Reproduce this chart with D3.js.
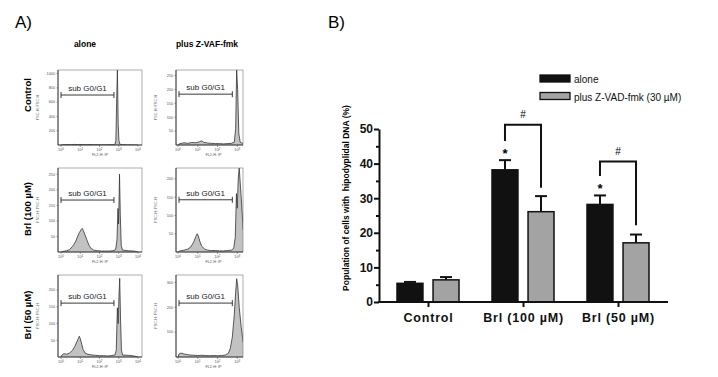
<!DOCTYPE html>
<html>
<head>
<script src="https://cdnjs.cloudflare.com/ajax/libs/d3/7.8.5/d3.min.js"></script>
<style>
  body{margin:0;background:#fff;font-family:"Liberation Sans",Arial,Helvetica,sans-serif;}
  svg{display:block;}
</style>
</head>
<body>
<div id="chart"></div>
<script>
// ---- panel A: flow histograms, x = log10(FL2-H: IP), y = counts
var hCtrlAlone = [[0,0],[0.1,4],[0.3,6],[0.5,5],[0.7,8],[0.9,6],[1.1,7],[1.3,5],[1.5,6],[1.7,4],[1.9,5],[2.1,4],[2.3,3],[2.5,4],[2.7,5],[2.8,8],[2.85,60],[2.89,600],[2.93,1050],[2.97,300],[3.01,60],[3.06,10],[3.2,5],[3.4,3],[3.6,2],[3.8,1],[4,0]]
var hCtrlZvad = [[0,0],[0.1,5],[0.3,8],[0.5,6],[0.7,9],[0.9,8],[1.1,12],[1.2,15],[1.3,10],[1.5,7],[1.7,6],[1.9,5],[2.1,5],[2.3,4],[2.5,5],[2.7,6],[2.85,10],[2.92,60],[2.97,270],[3.02,200],[3.08,40],[3.15,10],[3.3,5]]
var hBrl100Alone = [[0,0],[0.1,2],[0.3,4],[0.45,8],[0.6,18],[0.75,32],[0.85,48],[0.95,62],[1.05,72],[1.1,76],[1.15,70],[1.25,55],[1.35,38],[1.45,22],[1.55,12],[1.7,6],[1.9,4],[2.1,3],[2.3,3],[2.5,3],[2.7,4],[2.84,8],[2.91,40],[2.96,140],[2.99,90],[3.02,180],[3.04,250],[3.08,120],[3.13,20],[3.2,6],[3.5,4],[3.8,3],[4,0]]
var hBrl100Zvad = [[0,0],[0.1,3],[0.3,5],[0.5,8],[0.65,14],[0.8,28],[0.9,42],[0.97,50],[1.03,44],[1.1,30],[1.2,16],[1.35,8],[1.5,5],[1.7,4],[1.9,4],[2.1,3],[2.3,3],[2.5,4],[2.7,5],[2.82,10],[2.9,40],[2.96,160],[3.0,120],[3.05,200],[3.1,230],[3.2,150],[3.3,60]]
var hBrl50Alone = [[0,0],[0.05,6],[0.15,10],[0.3,8],[0.45,12],[0.6,20],[0.72,32],[0.82,45],[0.9,55],[0.95,62],[1.0,55],[1.08,38],[1.15,22],[1.25,12],[1.4,8],[1.6,6],[1.8,5],[2.0,4],[2.2,4],[2.4,3],[2.6,4],[2.8,6],[2.87,20],[2.93,147],[2.97,100],[3.01,180],[3.05,235],[3.09,120],[3.14,20],[3.2,6],[3.5,5],[3.8,3],[4,0]]
var hBrl50Zvad = [[0,0],[0.05,12],[0.15,16],[0.3,12],[0.45,10],[0.6,8],[0.8,7],[1.0,6],[1.2,7],[1.4,6],[1.6,5],[1.8,6],[2.0,5],[2.2,6],[2.4,8],[2.55,15],[2.65,35],[2.75,80],[2.85,170],[2.92,260],[2.97,315],[3.02,290],[3.1,200],[3.2,120],[3.3,60]]

var rowNames = ["Control","Brl (100 \u00b5M)","Brl (50 \u00b5M)"]
var colNames = ["alone","plus Z-VAF-fmk"]
var hists = [hCtrlAlone,hCtrlZvad,hBrl100Alone,hBrl100Zvad,hBrl50Alone,hBrl50Zvad]
var histYMax = [1050,270,270,230,245,330]
var histTicks = [[200,400,600,800,1000],[50,100,150,200,250],[50,100,150,200,250],[50,100,150,200],[50,100,150,200],[100,200,300]]
var gateLevel = [700,183,167,143,161,217]
var gateRange = [0,2.75]
var decades = [0,1,2,3,4]

// ---- panel B: % cells with hypodiploid DNA
var groups = ["Control","Brl (100 \u00b5M)","Brl (50 \u00b5M)"]
var series = ["alone","plus Z-VAD-fmk (30 \u00b5M)"]
var aloneMean = [5.4,38.2,28.2]
var aloneErr = [0.4,2.8,2.6]
var zvadMean = [6.4,26.1,17.1]
var zvadErr = [0.8,4.5,2.4]
var starGroups = ["Brl (100 \u00b5M)","Brl (50 \u00b5M)"]
var hashTop = [51.2,40.6]
var hashLeftEnd = [46.5,36.4]
var hashRightEnd = [33,22.2]
var yMajor = [0,10,20,30,40,50]
var yMinor = [5,15,25,35,45]

var font = "'Liberation Sans',Arial,Helvetica,sans-serif"
var svg = d3.select("#chart").append("svg").attr("width",718).attr("height",377)
svg.append("rect").attr("width",718).attr("height",377).attr("fill","#fff")

// ================= panel A
svg.append("text").text("A)").attr("x",15).attr("y",28).attr("font-size",17).attr("font-family",font)

var colBox = [{x0:58,x1:142,l0:61,l4:138},{x0:176,x1:243,l0:178,l4:257}]
var rowBox = [{y0:70,y1:145},{y0:168,y1:252},{y0:275,y1:357}]
var colTitleX = [85,207]

colNames.forEach(function(c,i){
    svg.append("text").text(c).attr("x",colTitleX[i]).attr("y",47)
        .attr("text-anchor","middle").attr("font-size",8.5).attr("font-weight","bold").attr("font-family",font)
})
var rowLabelY = [95,209,315]
rowNames.forEach(function(r,i){
    svg.append("text").text(r).attr("transform","translate(31,"+rowLabelY[i]+") rotate(-90)")
        .attr("text-anchor","middle").attr("font-size",9.5).attr("font-weight","bold").attr("font-family",font)
})

for(var r=0;r<3;r++){
    for(var c=0;c<2;c++){
        var k = r*2+c
        var cb = colBox[c], rb = rowBox[r]
        var xs = d3.scaleLinear().domain([0,4]).range([cb.l0,cb.l4])
        var ys = d3.scaleLinear().domain([0,histYMax[k]]).range([rb.y1,rb.y0])
        var g = svg.append("g")

        var clipId = "clip"+k
        svg.append("clipPath").attr("id",clipId).append("rect")
            .attr("x",cb.x0).attr("y",rb.y0).attr("width",cb.x1-cb.x0).attr("height",rb.y1-rb.y0)

        var area = d3.area().x(function(d){return xs(d[0])}).y0(rb.y1).y1(function(d){return ys(d[1])})
        var line = d3.line().x(function(d){return xs(d[0])}).y(function(d){return ys(d[1])})
        g.append("path").attr("d",area(hists[k])).attr("fill","#c2c2c2").attr("clip-path","url(#"+clipId+")")
        g.append("path").attr("d",line(hists[k])).attr("fill","none").attr("stroke","#333")
            .attr("stroke-width",0.8).attr("clip-path","url(#"+clipId+")")

        // frame
        g.append("rect").attr("x",cb.x0).attr("y",rb.y0).attr("width",cb.x1-cb.x0).attr("height",rb.y1-rb.y0)
            .attr("fill","none").attr("stroke","#777").attr("stroke-width",0.6)
        g.append("line").attr("x1",cb.x0).attr("x2",cb.x1).attr("y1",rb.y1).attr("y2",rb.y1)
            .attr("stroke","#222").attr("stroke-width",0.8)
        g.append("line").attr("x1",cb.x0).attr("x2",cb.x0).attr("y1",rb.y0).attr("y2",rb.y1)
            .attr("stroke","#222").attr("stroke-width",0.8)

        // y ticks
        histTicks[k].forEach(function(t){
            g.append("line").attr("x1",cb.x0-1.5).attr("x2",cb.x0).attr("y1",ys(t)).attr("y2",ys(t)).attr("stroke","#444").attr("stroke-width",0.5)
            g.append("text").text(t).attr("x",cb.x0-3).attr("y",ys(t)+1.3).attr("text-anchor","end")
                .attr("font-size",3.8).attr("fill","#555").attr("font-family",font)
        })
        // x ticks
        decades.forEach(function(dd){
            var px = xs(dd)
            if(px>cb.x1+1) return
            g.append("line").attr("x1",px).attr("x2",px).attr("y1",rb.y1).attr("y2",rb.y1+2).attr("stroke","#444").attr("stroke-width",0.5)
            var tt = g.append("text").attr("x",px).attr("y",rb.y1+6).attr("text-anchor","middle")
                .attr("font-size",3.8).attr("fill","#555").attr("font-family",font)
            tt.append("tspan").text("10")
            tt.append("tspan").text(dd).attr("dy",-1.5).attr("font-size",3)
        })
        g.append("text").text("FL2-H: IP").attr("x",(cb.x0+cb.x1)/2+(c==1?4:0)).attr("y",rb.y1+11)
            .attr("text-anchor","middle").attr("font-size",3.8).attr("fill","#555").attr("font-family",font)
        g.append("text").text("FSC-H: FSC-H").attr("transform","translate("+(cb.x0-19)+","+((rb.y0+rb.y1)/2)+") rotate(-90)")
            .attr("text-anchor","middle").attr("font-size",3.8).attr("fill","#666").attr("font-family",font)

        // sub G0/G1 gate marker
        var gy = ys(gateLevel[k]), gx0 = xs(gateRange[0])+ (c==1?1:0), gx1 = xs(gateRange[1])
        g.append("line").attr("x1",gx0).attr("x2",gx1).attr("y1",gy).attr("y2",gy).attr("stroke","#222").attr("stroke-width",0.9)
        g.append("line").attr("x1",gx0).attr("x2",gx0).attr("y1",gy-3).attr("y2",gy+3).attr("stroke","#222").attr("stroke-width",0.9)
        g.append("line").attr("x1",gx1).attr("x2",gx1).attr("y1",gy-3).attr("y2",gy+3).attr("stroke","#222").attr("stroke-width",0.9)
        g.append("text").text("sub G0/G1").attr("x",(gx0+gx1)/2).attr("y",gy-4)
            .attr("text-anchor","middle").attr("font-size",8).attr("fill","#222").attr("font-family",font)
    }
}

// ================= panel B
svg.append("text").text("B)").attr("x",328).attr("y",28).attr("font-size",17).attr("font-family",font)

var y = d3.scaleLinear().domain([0,50]).range([302,129])
var xg = d3.scalePoint().domain(groups).range([428,618])
var xs2 = d3.scaleBand().domain(series).range([-31,31]).paddingInner(0.28)
var fills = ["#111111","#a3a3a3"]
var means = [aloneMean,zvadMean], errs = [aloneErr,zvadErr]

var gB = svg.append("g")
series.forEach(function(s,si){
    groups.forEach(function(gname,gi){
        var x0 = xg(gname)+xs2(s)
        var cx = x0+xs2.bandwidth()/2
        var v = means[si][gi], e = errs[si][gi]
        // error bar (upper only)
        gB.append("line").attr("x1",cx).attr("x2",cx).attr("y1",y(v)).attr("y2",y(v+e)).attr("stroke","#111").attr("stroke-width",2)
        gB.append("line").attr("x1",cx-6).attr("x2",cx+6).attr("y1",y(v+e)).attr("y2",y(v+e)).attr("stroke","#111").attr("stroke-width",2)
        gB.append("rect").attr("x",x0).attr("y",y(v)).attr("width",xs2.bandwidth()).attr("height",y(0)-y(v))
            .attr("fill",fills[si]).attr("stroke","#111").attr("stroke-width",1.5)
    })
})

// significance marks
starGroups.forEach(function(gname,i){
    var gi = groups.indexOf(gname)
    var ca = xg(gname)+xs2(series[0])+xs2.bandwidth()/2
    var cz = xg(gname)+xs2(series[1])+xs2.bandwidth()/2
    gB.append("text").text("*").attr("x",ca).attr("y",y(aloneMean[gi]+aloneErr[gi])-2)
        .attr("text-anchor","middle").attr("font-size",13).attr("font-weight","bold").attr("font-family",font)
    gB.append("path").attr("d","M"+ca+","+y(hashLeftEnd[i])+"V"+y(hashTop[i])+"H"+cz+"V"+y(hashRightEnd[i]))
        .attr("fill","none").attr("stroke","#111").attr("stroke-width",2)
    gB.append("text").text("#").attr("x",(ca+cz)/2).attr("y",y(hashTop[i])-7)
        .attr("text-anchor","middle").attr("font-size",10).attr("font-family",font)
})

// axes
var yAxis = d3.axisLeft(y).tickValues(yMajor).tickSize(5).tickSizeOuter(0)
var ya = svg.append("g").attr("transform","translate(379,0)").call(yAxis)
ya.select(".domain").attr("stroke-width",2).attr("stroke","#111")
ya.selectAll(".tick line").attr("stroke-width",2).attr("stroke","#111")
ya.selectAll(".tick text").attr("font-size",12).attr("font-weight","bold").attr("font-family",font).attr("fill","#111").attr("x",-6)
var yMinorAxis = d3.axisLeft(y).tickValues(yMinor).tickSize(3).tickFormat("")
var ym = svg.append("g").attr("transform","translate(379,0)").call(yMinorAxis)
ym.select(".domain").remove()
ym.selectAll(".tick line").attr("stroke-width",2).attr("stroke","#111")

var xAxis = d3.axisBottom(xg).tickSize(5).tickSizeOuter(0)
var xa = svg.append("g").attr("transform","translate(0,302)").call(xAxis)
xa.select(".domain").attr("d","M378,0H668").attr("stroke-width",2).attr("stroke","#111")
xa.selectAll(".tick line").attr("stroke-width",2).attr("stroke","#111")
xa.selectAll(".tick text").attr("font-size",12.5).attr("font-weight","bold").attr("font-family",font)
    .attr("fill","#111").attr("letter-spacing",0.8).attr("y",11)

svg.append("text").text("Population of cells with  hipodyplidal DNA (%)")
    .attr("transform","translate(349,198) rotate(-90)").attr("text-anchor","middle")
    .attr("font-size",8.5).attr("font-weight","bold").attr("font-family",font).attr("xml:space","preserve")

// legend
series.forEach(function(s,i){
    var ly = 75+i*17.5
    svg.append("rect").attr("x",540).attr("y",ly).attr("width",30).attr("height",7)
        .attr("fill",fills[i]).attr("stroke","#111").attr("stroke-width",1.3)
    svg.append("text").text(s).attr("x",574).attr("y",ly+8).attr("font-size",10).attr("font-family",font).attr("fill","#111")
})
</script>
</body>
</html>
